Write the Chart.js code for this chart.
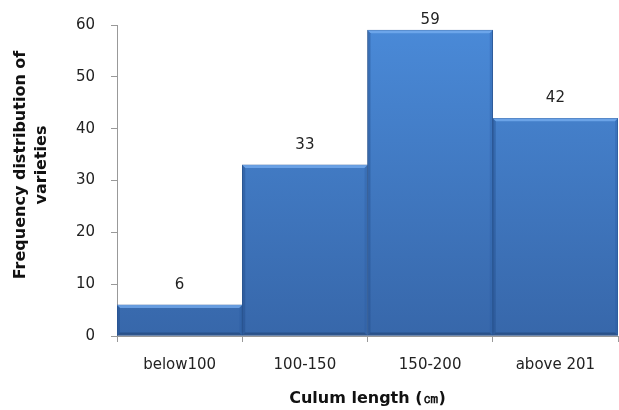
<!DOCTYPE html>
<html>
<head>
<meta charset="utf-8">
<script src="https://cdn.jsdelivr.net/npm/chart.js@4/dist/chart.umd.min.js"></script>
<style>
  html, body { margin: 0; padding: 0; background: #fff; }
  #wrap { width: 619px; height: 410px; position: relative; }
</style>
</head>
<body>
<div id="wrap"><canvas id="c" width="619" height="410"></canvas></div>
<script>
// Culum length classes and number of varieties in each
const categories = ['below100', '100-150', '150-200', 'above 201'];
const counts = [6, 33, 59, 42];
const yTicks = [0, 10, 20, 30, 40, 50, 60];
const yTitleLines = ['Frequency distribution of', 'varieties'];

const FONT = "'DejaVu Sans', sans-serif";

// Bevelled edges on each bar: light top rim, darker sides and bottom
const bevel = {
  id: 'bevel',
  afterDatasetsDraw(chart) {
    const ctx = chart.ctx;
    const d = 3;
    chart.getDatasetMeta(0).data.forEach(bar => {
      const l = bar.x - bar.width / 2, r = bar.x + bar.width / 2;
      const t = bar.y, b = bar.base;
      ctx.save();
      ctx.fillStyle = 'rgba(120,175,240,0.75)';
      ctx.beginPath();
      ctx.moveTo(l, t); ctx.lineTo(r, t); ctx.lineTo(r - d, t + d); ctx.lineTo(l + d, t + d); ctx.closePath();
      ctx.fill();
      ctx.fillStyle = 'rgba(30,70,130,0.35)';
      ctx.beginPath();
      ctx.moveTo(l, t); ctx.lineTo(l + d, t + d); ctx.lineTo(l + d, b - d); ctx.lineTo(l, b); ctx.closePath();
      ctx.fill();
      ctx.fillStyle = 'rgba(25,55,100,0.45)';
      ctx.beginPath();
      ctx.moveTo(l, b); ctx.lineTo(l + d, b - d); ctx.lineTo(r - d, b - d); ctx.lineTo(r, b); ctx.closePath();
      ctx.fill();
      ctx.fillStyle = 'rgba(40,90,160,0.3)';
      ctx.beginPath();
      ctx.moveTo(r, t); ctx.lineTo(r - d, t + d); ctx.lineTo(r - d, b - d); ctx.lineTo(r, b); ctx.closePath();
      ctx.fill();
      ctx.restore();
    });
  }
};

// Value printed above every bar, kept inside the top of the plot
const valueLabels = {
  id: 'valueLabels',
  afterDatasetsDraw(chart) {
    const ctx = chart.ctx;
    const ds = chart.data.datasets[0];
    const top = chart.chartArea.top;
    ctx.save();
    ctx.font = '15px ' + FONT;
    ctx.fillStyle = '#222';
    ctx.textAlign = 'center';
    ctx.textBaseline = 'middle';
    chart.getDatasetMeta(0).data.forEach((bar, i) => {
      const y = Math.max(bar.y - 20, top - 5);
      ctx.fillText(String(ds.data[i]), bar.x, y);
    });
    ctx.restore();
  }
};

// Two-line vertical title for the value axis
const yTitle = {
  id: 'yTitle',
  afterDraw(chart) {
    const ctx = chart.ctx;
    ctx.save();
    ctx.font = 'bold 16px ' + FONT;
    ctx.fillStyle = '#111';
    ctx.textAlign = 'center';
    ctx.textBaseline = 'middle';
    ctx.translate(0, 165);
    ctx.rotate(-Math.PI / 2);
    ctx.fillText(yTitleLines[0], 0, 21);
    ctx.fillText(yTitleLines[1], 0, 42);
    ctx.restore();
  }
};

new Chart(document.getElementById('c'), {
  type: 'bar',
  data: {
    labels: categories,
    datasets: [{
      data: counts,
      backgroundColor(ctx) {
        const area = ctx.chart.chartArea;
        if (!area) return '#4080d0';
        const g = ctx.chart.ctx.createLinearGradient(0, area.top, 0, area.bottom);
        g.addColorStop(0, '#4a8ad8');
        g.addColorStop(1, '#3767aa');
        return g;
      },
      borderColor: '#2f5a96',
      borderWidth: 1,
      borderSkipped: false,
      categoryPercentage: 1,
      barPercentage: 1
    }]
  },
  options: {
    responsive: false,
    animation: false,
    layout: { padding: { top: 23, right: 1, bottom: 0, left: 0 } },
    plugins: { legend: { display: false }, tooltip: { enabled: false } },
    scales: {
      x: {
        grid: { display: true, drawOnChartArea: false, tickLength: 6, color: '#999' },
        border: { color: '#999' },
        ticks: { font: { family: FONT, size: 15 }, color: '#222', padding: 14 },
        title: { display: true, text: 'Culum length (㎝)', font: { family: FONT, size: 16, weight: 'bold' }, color: '#111', padding: { top: 0, bottom: 2 } },
        afterFit(axis) { axis.height = 74; }
      },
      y: {
        min: 0, max: 60,
        afterBuildTicks(axis) { axis.ticks = yTicks.map(v => ({ value: v })); },
        grid: { display: true, drawOnChartArea: false, tickLength: 6, color: '#999' },
        border: { color: '#999' },
        ticks: { font: { family: FONT, size: 15 }, color: '#222', padding: 16 },
        afterFit(axis) { axis.width = 117; }
      }
    }
  },
  plugins: [bevel, valueLabels, yTitle]
});
</script>
</body>
</html>
